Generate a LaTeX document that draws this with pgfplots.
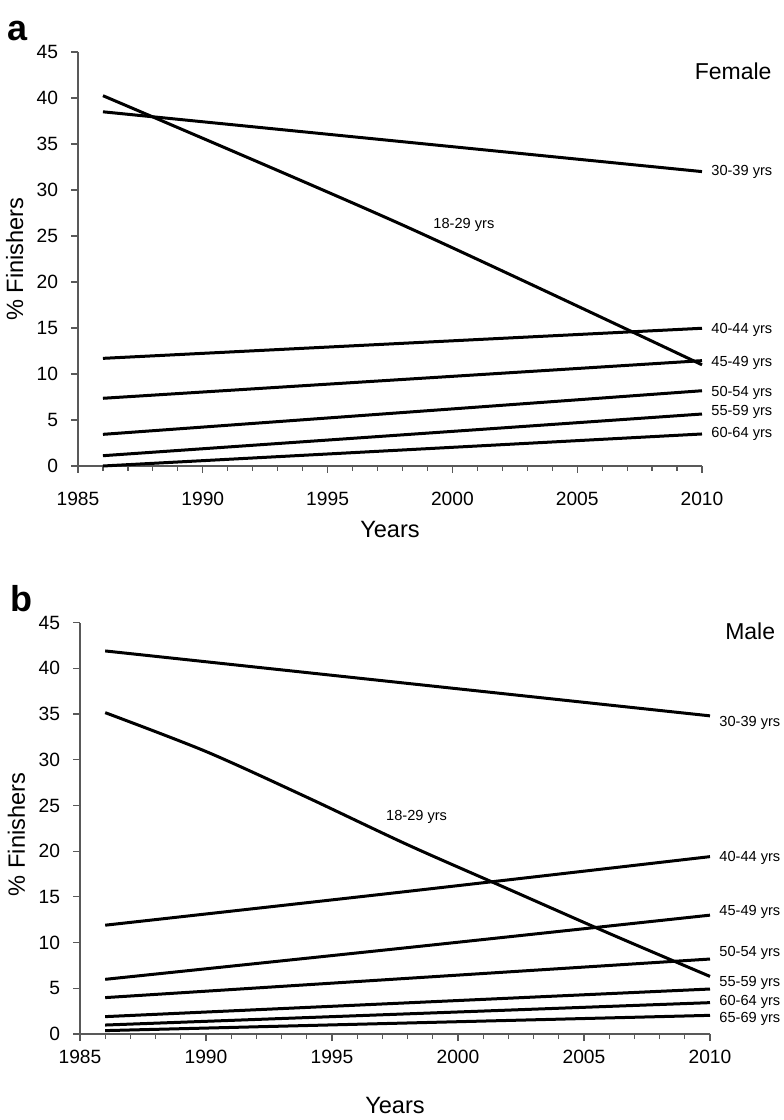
\documentclass[border=0pt]{standalone}
\usepackage{pgfplots}
\pgfplotsset{compat=1.18}
\usepackage{fontspec}
\setmainfont{Liberation Sans}
\tikzset{serlab/.style={anchor=west, font=\fontsize{7.3}{9}\selectfont, inner sep=0pt, xshift=4.5pt}}
\begin{document}
\begin{tikzpicture}
\useasboundingbox (0pt,0pt) rectangle (391.5pt,560pt);
\pgfplotsset{
  myaxis/.style={
    scale only axis,
    anchor=south west,
    xmin=1985, xmax=2010, ymin=0, ymax=45,
    axis x line=bottom, axis y line=left,
    axis line style={-, draw=black!65, line width=0.7pt},
    xtick={1985,1990,...,2010}, minor x tick num=4,
    ytick={0,5,...,45},
    tick align=outside,
    major tick length=3.5pt, minor tick length=2.5pt,
    tick style={draw=black!65, line width=0.6pt},
    /pgf/number format/assume math mode=true,
    /pgf/number format/1000 sep={},
    ticklabel style={font=\fontsize{9.6}{11}\selectfont},
    yticklabel style={xshift=-3pt},
    label style={font=\fontsize{11.8}{13}\selectfont},
    xlabel={Years}, ylabel={\% Finishers},
    clip=false,
    cycle list={black,solid,mark=none,line width=1.5pt\\},
  },
}
% Panel a
\begin{axis}[myaxis, at={(39pt,327pt)}, width=312pt, height=207pt,
  xticklabel style={yshift=-6pt},
  xlabel style={at={(axis description cs:0.5,0)}, anchor=center, yshift=-32pt},
  ylabel style={at={(axis description cs:-0.1013,0.5)}, anchor=center, rotate=0}]
\addplot+[smooth] coordinates {(1986,40.25) (1998,26.2) (2010,11.0)};
\addplot coordinates {(1986,38.5) (2010,32.0)};
\addplot coordinates {(1986,11.7) (2010,14.97)};
\addplot coordinates {(1986,7.36) (2010,11.45)};
\addplot coordinates {(1986,3.44) (2010,8.18)};
\addplot coordinates {(1986,1.12) (2010,5.65)};
\addplot coordinates {(1986,0.0) (2010,3.48)};
\node[serlab] at (axis cs:2010,32.0) {30-39 yrs};
\node[serlab, anchor=center, xshift=0pt] at (axis cs:2000.1,26.2) {18-29 yrs};
\node[serlab] at (axis cs:2010,14.8) {40-44 yrs};
\node[serlab] at (axis cs:2010,11.2) {45-49 yrs};
\node[serlab] at (axis cs:2010,7.97) {50-54 yrs};
\node[serlab] at (axis cs:2010,5.9) {55-59 yrs};
\node[serlab] at (axis cs:2010,3.48) {60-64 yrs};
\node[anchor=east, inner sep=0pt, font=\fontsize{11.5}{13}\selectfont] at (axis cs:2012.8,42.9) {Female};
\end{axis}
% Panel b
\begin{axis}[myaxis, at={(40pt,43pt)}, width=315pt, height=205.7pt,
  xticklabel style={yshift=-1pt},
  xlabel style={at={(axis description cs:0.5,0)}, anchor=center, yshift=-35.5pt},
  ylabel style={at={(axis description cs:-0.1008,0.485)}, anchor=center, rotate=0}]
\addplot+[smooth] coordinates {(1986,35.15) (1990,30.9) (1994,25.9) (1998,20.7) (2002,15.85) (2006,11.0) (2010,6.3)};
\addplot coordinates {(1986,41.9) (2010,34.8)};
\addplot+[smooth] coordinates {(1986,11.9) (1998,15.6) (2010,19.4)};
\addplot+[smooth] coordinates {(1986,5.98) (1998,9.45) (2010,13.0)};
\addplot coordinates {(1986,3.98) (2010,8.2)};
\addplot coordinates {(1986,1.9) (2010,4.92)};
\addplot coordinates {(1986,0.98) (2010,3.43)};
\addplot coordinates {(1986,0.37) (2010,2.04)};
\node[serlab] at (axis cs:2010,34.0) {30-39 yrs};
\node[serlab, anchor=center, xshift=0pt] at (axis cs:1998.0,23.7) {18-29 yrs};
\node[serlab] at (axis cs:2010,19.3) {40-44 yrs};
\node[serlab] at (axis cs:2010,13.4) {45-49 yrs};
\node[serlab] at (axis cs:2010,8.9) {50-54 yrs};
\node[serlab] at (axis cs:2010,5.55) {55-59 yrs};
\node[serlab] at (axis cs:2010,3.54) {60-64 yrs};
\node[serlab] at (axis cs:2010,1.6) {65-69 yrs};
\node[anchor=east, inner sep=0pt, font=\fontsize{11.5}{13}\selectfont] at (axis cs:2012.6,44.0) {Male};
\end{axis}
\node[anchor=base west, font=\bfseries\fontsize{18}{20}\selectfont, inner sep=0pt] at (3.5pt,539.5pt) {a};
\node[anchor=base west, font=\bfseries\fontsize{18}{20}\selectfont, inner sep=0pt] at (5pt,254pt) {b};
\end{tikzpicture}
\end{document}
